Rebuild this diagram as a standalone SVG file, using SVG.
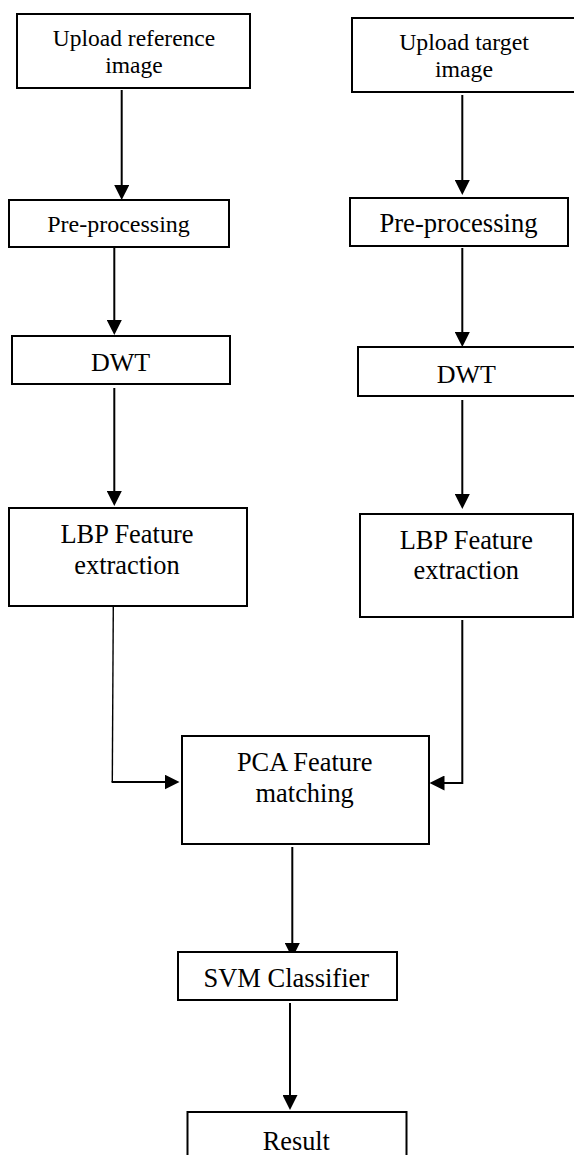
<svg xmlns="http://www.w3.org/2000/svg" width="574" height="1155" viewBox="0 0 574 1155">
<style>
.box{fill:#fff;stroke:#000;stroke-width:2}
.t{font-family:"Liberation Serif","Times New Roman",serif;fill:#000;text-anchor:middle}
.c{fill:none;stroke:#000;stroke-width:2}
.thin{fill:none;stroke:#000;stroke-width:1.4}
</style>
<defs>
<marker id="ah" viewBox="0 0 15 15" refX="12" refY="7.5" markerWidth="15" markerHeight="15" markerUnits="userSpaceOnUse" orient="auto">
<path d="M0,0 L15,7.5 L0,15 Z" fill="#000"/>
</marker>
</defs>
<rect width="574" height="1155" fill="#fff"/>
<g id="connectors">
<line class="c" x1="121.7" y1="90" x2="121.7" y2="197" marker-end="url(#ah)"/>
<line class="c" x1="114.3" y1="248" x2="114.3" y2="332" marker-end="url(#ah)"/>
<line class="c" x1="114.3" y1="388" x2="114.3" y2="503" marker-end="url(#ah)"/>
<polyline class="thin" points="113.3,606 112.3,782"/>
<line class="c" x1="111.6" y1="782" x2="176.5" y2="782" marker-end="url(#ah)"/>
<line class="c" x1="462.3" y1="95" x2="462.3" y2="192" marker-end="url(#ah)"/>
<line class="c" x1="462.3" y1="248" x2="462.3" y2="344" marker-end="url(#ah)"/>
<line class="c" x1="462.3" y1="400" x2="462.3" y2="506" marker-end="url(#ah)"/>
<polyline class="c" points="462.3,620 462.3,783 432.5,783" marker-end="url(#ah)"/>
<line class="c" x1="292.3" y1="847" x2="292.3" y2="955" marker-end="url(#ah)"/>
<line class="c" x1="290" y1="1003" x2="290" y2="1107" marker-end="url(#ah)"/>
</g>
<g id="upload-ref">
<rect class="box" x="17" y="14" width="233" height="74"/>
<text class="t" x="134" y="46" font-size="23.5">Upload reference</text>
<text class="t" x="134" y="72.5" font-size="23.5">image</text>
</g>
<g id="preproc-left">
<rect class="box" x="9" y="200" width="220" height="47"/>
<text class="t" x="118.5" y="232" font-size="24">Pre-processing</text>
</g>
<g id="dwt-left">
<rect class="box" x="12" y="336" width="218" height="48"/>
<text class="t" x="120.5" y="371" font-size="26">DWT</text>
</g>
<g id="lbp-left">
<rect class="box" x="9" y="508" width="238" height="98"/>
<text class="t" x="127" y="543" font-size="26.4">LBP Feature</text>
<text class="t" x="127" y="574" font-size="26.4">extraction</text>
</g>
<g id="upload-target">
<rect class="box" x="352" y="18" width="232" height="74"/>
<text class="t" x="464" y="50" font-size="23.8">Upload target</text>
<text class="t" x="464" y="76.5" font-size="23.8">image</text>
</g>
<g id="preproc-right">
<rect class="box" x="350" y="198" width="218" height="48"/>
<text class="t" x="458.5" y="232" font-size="26.6">Pre-processing</text>
</g>
<g id="dwt-right">
<rect class="box" x="358" y="347" width="224" height="49"/>
<text class="t" x="466.3" y="383" font-size="26">DWT</text>
</g>
<g id="lbp-right">
<rect class="box" x="360" y="514" width="213" height="103"/>
<text class="t" x="466.3" y="549" font-size="26.4">LBP Feature</text>
<text class="t" x="466.3" y="579" font-size="26.4">extraction</text>
</g>
<g id="pca">
<rect class="box" x="182" y="736" width="247" height="108"/>
<text class="t" x="304.7" y="771" font-size="26.4">PCA Feature</text>
<text class="t" x="304.7" y="802" font-size="26.4">matching</text>
</g>
<g id="svm">
<rect class="box" x="178" y="952" width="219" height="48"/>
<text class="t" x="286.3" y="987" font-size="26.5">SVM Classifier</text>
</g>
<g id="result">
<rect class="box" x="187.5" y="1112" width="219" height="60"/>
<text class="t" x="296.3" y="1150" font-size="26.3">Result</text>
</g>
</svg>
